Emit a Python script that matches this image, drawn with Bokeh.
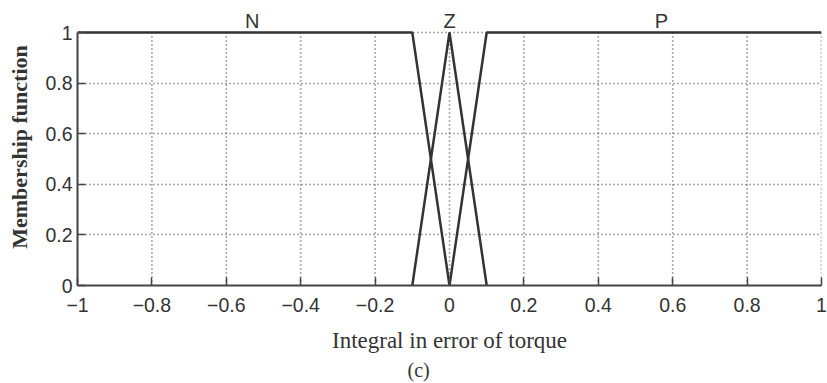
from bokeh.plotting import figure
from bokeh.models import Range1d, FixedTicker, Title
from bokeh.core.properties import value
from bokeh.embed import file_html
from bokeh.resources import INLINE

# Membership functions of the integral-of-torque-error input
n_x = [-1.0, -0.1, 0.0]
n_y = [1.0, 1.0, 0.0]
z_x = [-0.1, 0.0, 0.1]
z_y = [0.0, 1.0, 0.0]
p_x = [0.0, 0.1, 1.0]
p_y = [0.0, 1.0, 1.0]

set_names = ["N", "Z", "P"]
set_name_x = [-0.53, 0.0, 0.57]

x_ticks = [-1, -0.8, -0.6, -0.4, -0.2, 0, 0.2, 0.4, 0.6, 0.8, 1]
x_tick_labels = ["\u22121", "\u22120.8", "\u22120.6", "\u22120.4", "\u22120.2",
                 "0", "0.2", "0.4", "0.6", "0.8", "1"]
y_ticks = [0, 0.2, 0.4, 0.6, 0.8, 1]
y_tick_labels = ["0", "0.2", "0.4", "0.6", "0.8", "1"]

x_title = "Integral in error of torque"
y_title = "Membership function"
caption = "(c)"

INK = "#333333"
GRID = "#555555"
SANS = "Liberation Sans"
SERIF = "Liberation Serif"

# the frame reaches above y = 1 so the set names fit inside it
p = figure(width=827, height=383, output_backend="svg", toolbar_location=None,
           x_range=Range1d(-1, 1), y_range=Range1d(0, 1.095),
           min_border_left=77, min_border_right=6,
           min_border_top=8, min_border_bottom=98)
p.outline_line_color = None
p.background_fill_color = "white"
p.border_fill_color = "white"

# dotted grid: vertical lines stop at y = 1, horizontal ones come from the grid
p.xgrid.visible = False
p.segment(x0=x_ticks, y0=[0] * len(x_ticks), x1=x_ticks, y1=[1] * len(x_ticks),
          line_color=GRID, line_width=1.6, line_dash="1 3", level="underlay")
p.ygrid.grid_line_color = GRID
p.ygrid.grid_line_dash = "1 3"
p.ygrid.grid_line_width = 1.6

for xs, ys in ((n_x, n_y), (z_x, z_y), (p_x, p_y)):
    p.line(xs, ys, line_color="#333333", line_width=2.5)

p.text(x=set_name_x, y=[1.047] * len(set_names), text=set_names,
       text_font=value(SANS), text_font_size="20px", text_color=INK,
       text_align="center", text_baseline="middle")

# axes: inward ticks, left axis limited to the 0..1 span
p.xaxis.ticker = FixedTicker(ticks=x_ticks)
p.yaxis.ticker = FixedTicker(ticks=y_ticks)
p.yaxis.bounds = (0, 1)
p.xaxis.major_label_overrides = dict(zip(x_ticks, x_tick_labels))
p.yaxis.major_label_overrides = dict(zip(y_ticks, y_tick_labels))
for ax in (p.xaxis, p.yaxis):
    ax.minor_tick_line_color = None
    ax.major_tick_in = 8
    ax.major_tick_out = 0
    ax.major_tick_line_color = "#444444"
    ax.major_tick_line_width = 1.5
    ax.axis_line_color = "#444444"
    ax.axis_line_width = 2
    ax.major_label_text_font = SANS
    ax.major_label_text_font_size = "19.5px"
    ax.major_label_text_color = INK
    ax.axis_label_text_color = INK

p.xaxis.major_label_standoff = 12
p.yaxis.major_label_standoff = 5

p.xaxis.axis_label = x_title
p.xaxis.axis_label_text_font = SERIF
p.xaxis.axis_label_text_font_size = "23px"
p.xaxis.axis_label_text_font_style = "normal"
p.xaxis.axis_label_standoff = 13

p.yaxis.axis_label = y_title
p.yaxis.axis_label_text_font = SERIF
p.yaxis.axis_label_text_font_size = "22px"
p.yaxis.axis_label_text_font_style = "bold"
p.yaxis.axis_label_standoff = 10

p.add_layout(Title(text=caption, align="left", offset=330, standoff=3,
                   text_font=SERIF, text_font_size="20px",
                   text_font_style="normal", text_color=INK), "below")

open("out.html", "w").write(file_html(p, INLINE))
